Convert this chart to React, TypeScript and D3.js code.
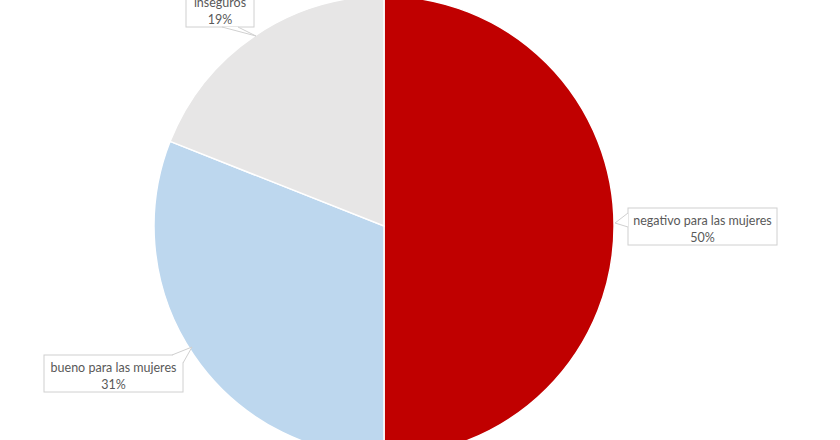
import React from "react";
import * as d3 from "d3";

const categories = ["negativo para las mujeres", "bueno para las mujeres", "inseguros"];
const values = [50, 31, 19];
const percentLabels = ["50%", "31%", "19%"];
const colors = ["#C00000", "#BDD7EE", "#E7E6E6"];

// label box layout: [x, y, w, h], tail: [base1, tip, base2]
const boxes = [
  { x: 628, y: 208, w: 149, h: 37, tail: [[628, 213], [615, 223], [628, 227]] },
  { x: 44, y: 355, w: 139, h: 37, tail: [[172, 355], [192, 347], [183, 363]] },
  { x: 186, y: -12, w: 68, h: 39, tail: [[222, 27], [256, 36], [238, 27]] },
];
const textShift = [2, 2, 3];

export default function App() {
  const W = 840, H = 440;
  const cx = 384, cy = 226, r = 230;
  const pie = d3.pie<number>().sort(null).value((d) => d)(values);
  const arc = d3.arc<d3.PieArcDatum<number>>().innerRadius(0).outerRadius(r);

  return (
    <svg width={W} height={H} style={{ position: "absolute", left: 0, top: 0, background: "#fff" }}>
      <g transform={`translate(${cx},${cy})`}>
        {pie.map((p, i) => (
          <path key={i} d={arc(p) || ""} fill={colors[i]} stroke="#fff" strokeWidth={1.5} />
        ))}
      </g>
      {boxes.map((b, i) => {
        const [b1, tip, b2] = b.tail;
        const mid = b.y + b.h / 2 + textShift[i];
        return (
          <g key={i}>
            <rect x={b.x} y={b.y} width={b.w} height={b.h} fill="#fff" stroke="#D0D0D0" strokeWidth={1} />
            <path d={`M${b1[0]},${b1[1]}L${tip[0]},${tip[1]}L${b2[0]},${b2[1]}`} fill="#fff" stroke="#D0D0D0" strokeWidth={1} />
            <text x={b.x + b.w / 2} y={mid - 4} textAnchor="middle" fontFamily="Lato, 'Open Sans', sans-serif" fontSize={12.5} fill="#595959">{categories[i]}</text>
            <text x={b.x + b.w / 2} y={mid + 13} textAnchor="middle" fontFamily="Lato, 'Open Sans', sans-serif" fontSize={12.5} fill="#595959">{percentLabels[i]}</text>
          </g>
        );
      })}
    </svg>
  );
}
